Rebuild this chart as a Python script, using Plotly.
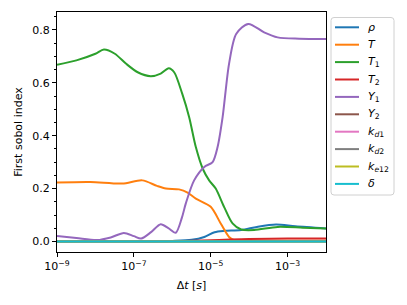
import plotly.graph_objects as go

# ---- data (x as Δt in seconds, y as first-order Sobol index) ----
rho_x = [1e-9, 1e-7, 1e-6, 3.2e-6, 6.8e-6, 1.26e-5, 2.24e-5, 6.2e-5, 1.6e-4, 5e-4, 1.6e-3, 1e-2]
rho_y = [0.0, 0.0, 0.002, 0.006, 0.017, 0.035, 0.040, 0.043, 0.055, 0.064, 0.057, 0.049]

T_x = [1e-9, 7.4e-9, 5e-8, 1.66e-7, 4e-7, 6.8e-7, 1.5e-6, 2.5e-6, 4.1e-6, 1e-5, 1.82e-5, 3e-5, 4.1e-5, 1e-4, 1e-3, 1e-2]
T_y = [0.223, 0.225, 0.219, 0.231, 0.210, 0.200, 0.197, 0.185, 0.162, 0.131, 0.068, 0.017, 0.005, 0.003, 0.003, 0.003]

T1_x = [1e-9, 3.2e-9, 1e-8, 1.66e-8, 3.2e-8, 6.3e-8, 1.26e-7, 2.75e-7, 5e-7, 8.1e-7, 1.12e-6, 1.82e-6, 2.75e-6,
        4.1e-6, 6.2e-6, 9.1e-6, 1.35e-5, 2.24e-5, 3.7e-5, 6.2e-5, 1.35e-4, 5.5e-4, 2.5e-3, 1e-2]
T1_y = [0.668, 0.685, 0.710, 0.726, 0.710, 0.672, 0.640, 0.625, 0.635, 0.655, 0.640, 0.558, 0.470,
        0.357, 0.275, 0.231, 0.200, 0.130, 0.068, 0.045, 0.043, 0.055, 0.052, 0.049]

T2_x = [1e-9, 1e-6, 1e-5, 3.2e-5, 1e-4, 1e-3, 1e-2]
T2_y = [0.0, 0.001, 0.004, 0.007, 0.009, 0.011, 0.011]

Y1_x = [1e-9, 3.2e-9, 1.1e-8, 2.5e-8, 5.5e-8, 1e-7, 1.55e-7, 2.8e-7, 5e-7, 7.9e-7, 1.23e-6, 1.78e-6,
        2.24e-6, 3.7e-6, 6.8e-6, 1.12e-5, 1.51e-5, 2.04e-5, 3e-5, 4.6e-5, 9.5e-5, 2.45e-4, 5.5e-4, 2e-3, 1e-2]
Y1_y = [0.021, 0.013, 0.005, 0.015, 0.032, 0.020, 0.011, 0.035, 0.065, 0.050, 0.033, 0.090,
        0.143, 0.231, 0.282, 0.300, 0.357, 0.470, 0.672, 0.785, 0.823, 0.791, 0.772, 0.767, 0.766]

Y2_x = [1e-9, 1e-5, 1e-2]
Y2_y = [0.0, 0.001, 0.001]

kd1_x = [1e-9, 1e-2]
kd1_y = [0.0, 0.0]
kd2_x = [1e-9, 1e-2]
kd2_y = [0.0, 0.0]
ke12_x = [1e-9, 1e-2]
ke12_y = [0.0, 0.0]
delta_x = [1e-9, 1e-2]
delta_y = [0.0, 0.0]

names = ["<i>ρ</i>", "<i>T</i>", "<i>T</i><sub>1</sub>", "<i>T</i><sub>2</sub>", "<i>Y</i><sub>1</sub>",
         "<i>Y</i><sub>2</sub>", "<i>k</i><sub><i>d</i>1</sub>", "<i>k</i><sub><i>d</i>2</sub>",
         "<i>k</i><sub><i>e</i>12</sub>", "<i>δ</i>"]
series = [(rho_x, rho_y), (T_x, T_y), (T1_x, T1_y), (T2_x, T2_y), (Y1_x, Y1_y),
          (Y2_x, Y2_y), (kd1_x, kd1_y), (kd2_x, kd2_y), (ke12_x, ke12_y), (delta_x, delta_y)]
colors = ["#1f77b4", "#ff7f0e", "#2ca02c", "#d62728", "#9467bd",
          "#8c564b", "#e377c2", "#7f7f7f", "#bcbd22", "#17becf"]

xtick_vals = [1e-9, 1e-7, 1e-5, 1e-3]
xtick_text = ["10<sup>−9</sup>", "10<sup>−7</sup>", "10<sup>−5</sup>", "10<sup>−3</sup>"]
ytick_vals = [0.0, 0.2, 0.4, 0.6, 0.8]
ytick_text = ["0.0", "0.2", "0.4", "0.6", "0.8"]

W, H = 407, 305
ML, MR, MT, MB = 57, 81, 12, 53
PW, PH = W - ML - MR, H - MT - MB

def px(x):  # pixel -> paper x
    return (x - ML) / PW

def py(y):  # pixel -> paper y
    return (H - MB - y) / PH

fig = go.Figure()
for (xs, ys), nm, c in zip(series, names, colors):
    fig.add_trace(go.Scatter(x=xs, y=ys, mode="lines", name=nm, showlegend=False,
                             line=dict(color=c, width=2, shape="spline", smoothing=0.8)))

# ---- legend box drawn in paper space (matplotlib-style, rounded corners) ----
bx0, bx1, by0, by1, r = 331, 394, 17.5, 195, 3
rx, ry = r / PW, r / PH
X0, X1, Y0, Y1 = px(bx0), px(bx1), py(by1), py(by0)
path = (f"M {X0+rx},{Y1} L {X1-rx},{Y1} Q {X1},{Y1} {X1},{Y1-ry} "
        f"L {X1},{Y0+ry} Q {X1},{Y0} {X1-rx},{Y0} L {X0+rx},{Y0} "
        f"Q {X0},{Y0} {X0},{Y0+ry} L {X0},{Y1-ry} Q {X0},{Y1} {X0+rx},{Y1} Z")
fig.add_shape(type="path", path=path, xref="paper", yref="paper",
              line=dict(color="#d0d0d0", width=1), fillcolor="rgba(255,255,255,0.8)")
for i, (nm, c) in enumerate(zip(names, colors)):
    yy = 27.3 + 17.4 * i
    fig.add_shape(type="line", xref="paper", yref="paper",
                  x0=px(335), x1=px(359), y0=py(yy), y1=py(yy),
                  line=dict(color=c, width=2))
    fig.add_annotation(x=px(366), y=py(yy), xref="paper", yref="paper", text=nm,
                       showarrow=False, xanchor="left", yanchor="middle",
                       font=dict(size=11, color="black"))

fig.update_layout(
    width=W, height=H,
    margin=dict(l=ML, r=MR, t=MT, b=MB, autoexpand=False),
    paper_bgcolor="white", plot_bgcolor="white",
    font=dict(family="DejaVu Sans", size=11, color="black"),
    showlegend=False,
)
fig.update_xaxes(type="log", range=[-9, -2], tickvals=xtick_vals, ticktext=xtick_text,
                 showgrid=False, zeroline=False, showline=True, linecolor="black", linewidth=1,
                 mirror=True, ticks="outside", ticklen=4, tickcolor="black", automargin=False,
                 tickfont=dict(size=11),
                 title=dict(text="Δ<i>t</i> [<i>s</i>]", standoff=9, font=dict(size=11)))
fig.update_yaxes(range=[-0.040, 0.868], tickvals=ytick_vals, ticktext=ytick_text,
                 showgrid=False, zeroline=False, showline=True, linecolor="black", linewidth=1,
                 mirror=True, ticks="outside", ticklen=4, tickcolor="black", automargin=False,
                 tickfont=dict(size=11),
                 minor=dict(dtick=0.05, tick0=0, ticks="outside", ticklen=2, tickcolor="black"),
                 title=dict(text="First sobol index", standoff=7, font=dict(size=11)))

fig.write_html("out.html", config={"displayModeBar": False},
               post_script="document.body.style.margin='0';")
